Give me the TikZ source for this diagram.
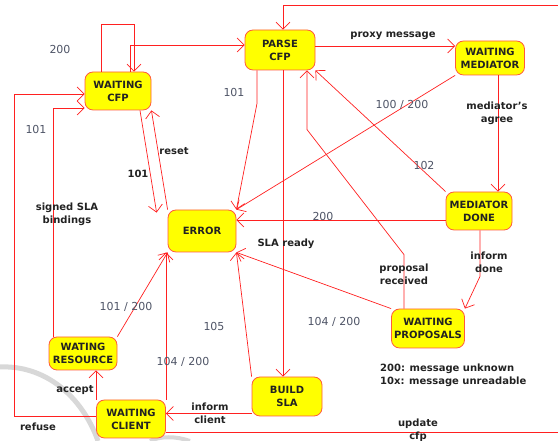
\documentclass[tikz,border=0pt]{standalone}
\usepackage{fontspec}
\setmainfont{DejaVu Sans}
\usepackage{tikz}
\usetikzlibrary{positioning,arrows.meta}
\definecolor{StateYellow}{HTML}{FFFF00}
\definecolor{StateBorder}{HTML}{FF5A3C}
\definecolor{EdgeRed}{HTML}{FF2020}
\definecolor{CodeGray}{HTML}{4E5466}
\definecolor{TextDark}{HTML}{222222}
\definecolor{MarkGray}{HTML}{D8D8D8}

\begin{document}
\begin{tikzpicture}[
      x=1pt, y=1pt,
      every node/.style={align=center, font=\fontsize{10}{13}\selectfont\bfseries, text=TextDark, inner sep=1pt},
      state/.style={draw=StateBorder, fill=StateYellow, rounded corners=8pt, line width=0.8pt},
      arrow/.style={EdgeRed, line width=0.7pt, -{Straight Barb[length=7pt, width=14pt]}},
      retcode/.style={font=\fontsize{11}{13}\selectfont\mdseries, text=CodeGray}
    ]
      \useasboundingbox (0,0) rectangle (558,441);
      \clip (0,0) rectangle (558,441);
      % Watermark
      \draw[MarkGray, line width=5pt] (0,74) .. controls (45,76) and (82,45) .. (98,0);
      \draw[MarkGray, line width=4pt] (150,0) .. controls (160,5) and (176,5) .. (190,0);
      % States
      \node[state, minimum width=66pt, minimum height=38pt] (wcfp) at (118,350) {WAITING\\CFP};
      \node[state, minimum width=70pt, minimum height=40pt] (parse) at (280,391) {PARSE\\CFP};
      \node[state, minimum width=69pt, minimum height=34pt] (wmed) at (490,383) {WAITING\\MEDIATOR};
      \node[state, minimum width=68pt, minimum height=42pt] (error) at (202,210) {ERROR};
      \node[state, minimum width=66pt, minimum height=38pt] (mdone) at (479,230) {MEDIATOR\\DONE};
      \node[state, minimum width=73pt, minimum height=39pt] (wprop) at (428,112.5) {WAITING\\PROPOSALS};
      \node[state, minimum width=68pt, minimum height=33pt] (wres) at (83,87.5) {WATING\\RESOURCE};
      \node[state, minimum width=70pt, minimum height=39pt] (build) at (287,44.5) {BUILD\\SLA};
      \node[state, minimum width=69pt, minimum height=38pt] (wclient) at (131,22) {WAITING\\CLIENT};
      % Transitions
      \draw[arrow] ([xshift=-17pt]wcfp.north) -- ++(0,47) -| ([xshift=16pt]wcfp.north);
      \draw[arrow] ([xshift=12pt]wcfp.north) |- ([yshift=5pt]parse.west);
      \draw[arrow] ([yshift=4pt]parse.east) -- ([yshift=4pt]parse.east -| wmed.west);
      \draw[arrow] ([xshift=8pt]wmed.south) -- ([xshift=8pt]wmed.south |- mdone.north);
      \draw[arrow] (wmed.south west) -- (error.north east);
      \draw[arrow] ([xshift=-23pt]parse.south) -- ++(0,-33) -- (error.north east);
      \draw[arrow] (mdone.north west) -- (parse.south east);
      \draw[arrow] ([xshift=-24pt]wprop.north) -- ++(0,54) -- ++(-97,125) -- ([xshift=27pt]parse.south);
      \draw[arrow] ([yshift=-9pt]mdone.west) -- ([yshift=-9pt]mdone.west -| error.east);
      \draw[arrow] ([xshift=1pt]mdone.south) -- ++(0,-46) -- (wprop.north east);
      \draw[arrow] (wprop.north west) -- (error.south east);
      \draw[arrow] ([xshift=3pt]parse.south) -- ([xshift=3pt]parse.south |- build.north);
      \draw[arrow] (build.north west) -- (error.south east);
      \draw[arrow] (wclient.north east) -- (wclient.north east |- error.south);
      \draw[arrow] (wres.north east) -- (error.south west);
      \draw[arrow] (wclient.north west) -- (wclient.north west |- wres.south);
      \draw[arrow] ([yshift=-17pt]build.west) -- ([yshift=-17pt]build.west -| wclient.east);
      \draw[arrow] ([yshift=3pt]wclient.west) -- ++(-82,0) |- ([yshift=-3pt]wcfp.west);
      \draw[arrow] ([xshift=-30pt]wres.north) |- ([yshift=-17pt]wcfp.west);
      \draw[arrow] ([xshift=22pt]wcfp.south) -- ([xshift=-11pt,yshift=-3pt]error.north west);
      \draw[arrow] (error.north west) -- (wcfp.south east);
      % Update cfp loop (runs off the page)
      \draw[arrow] ([yshift=-13pt]wclient.east) -- (640,9) -- (640,436) -| ([xshift=3pt]parse.north);
      % Labels
      \node[retcode] (l200a) at (60,391) {200};
      \node[retcode] (l101a) at (36,311) {101};
      \node[retcode] (l101b) at (234,348) {101};
      \node (lreset) at (174,290) {reset};
      \node (l101c) at (138,267) {101};
      \node (lsigned) at (67,227) {signed SLA\\bindings};
      \node (lproxy) at (393,405) {proxy message};
      \node[retcode] (l100) at (402,336) {100 / 200};
      \node (lagree) at (497,328) {mediator's\\agree};
      \node[retcode] (l102) at (424,275) {102};
      \node[retcode] (l200b) at (323,224) {200};
      \node (lready) at (286,197) {SLA ready};
      \node (lprop) at (404,167) {proposal\\received};
      \node (ldone) at (489,179) {inform\\done};
      \node[retcode] (l104a) at (334,119) {104 / 200};
      \node[retcode] (l101d) at (126,134) {101 / 200};
      \node[retcode] (l105) at (214,114) {105};
      \node[retcode] (l104b) at (183,79) {104 / 200};
      \node (laccept) at (75,51) {accept};
      \node (lclient) at (210,28) {inform\\client};
      \node (lrefuse) at (38,14) {refuse};
      \node (lupdate) at (418,11) {update\\cfp};
      \node[anchor=west, align=left] (legend) at (379,66) {200: message unknown\\10x: message unreadable};
    \end{tikzpicture}
\end{document}
